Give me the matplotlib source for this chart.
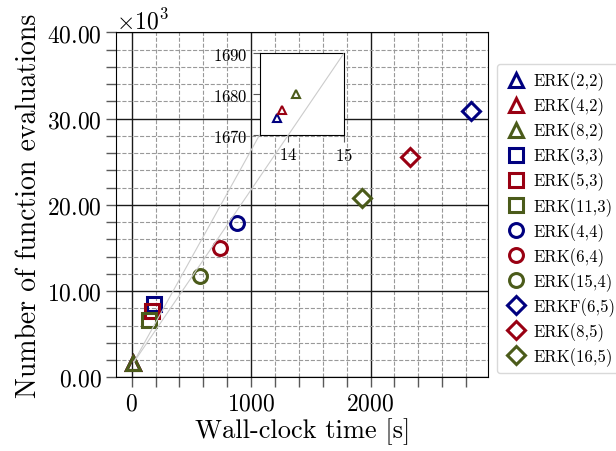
import matplotlib
matplotlib.use("Agg")
import matplotlib.pyplot as plt
from matplotlib.ticker import ScalarFormatter, MultipleLocator
from mpl_toolkits.axes_grid1.inset_locator import mark_inset

plt.rcParams['font.family'] = 'serif'
plt.rcParams['font.serif'] = ['cmr10']
plt.rcParams['mathtext.fontset'] = 'cm'
plt.rcParams['axes.formatter.use_mathtext'] = True

# schemes, wall-clock time [s], number of function evaluations
labels = ['ERK(2,2)', 'ERK(4,2)', 'ERK(8,2)',
          'ERK(3,3)', 'ERK(5,3)', 'ERK(11,3)',
          'ERK(4,4)', 'ERK(6,4)', 'ERK(15,4)',
          'ERKF(6,5)', 'ERK(8,5)', 'ERK(16,5)']
wall_time = [13.80, 13.89, 14.14,
             187, 167, 148,
             882, 743, 569,
             2841, 2329, 1930]
n_evals = [1674, 1676, 1680,
           8500, 7720, 6680,
           17850, 14950, 11740,
           30840, 25500, 20830]

colors = ['#00007f', '#990012', '#4b5b1a'] * 4
markers = ['^'] * 3 + ['s'] * 3 + ['o'] * 3 + ['D'] * 3


class TwoDecimals(ScalarFormatter):
    def _set_format(self):
        self.format = r'$\mathdefault{%.2f}$'


fig = plt.figure(figsize=(6.16, 4.52), dpi=100)
ax = fig.add_axes([0.189, 0.163, 0.603, 0.763])

for lab, x, y, c, m in zip(labels, wall_time, n_evals, colors, markers):
    ms = 9 if m == 'D' else 10
    ax.plot(x, y, linestyle='none', marker=m, ms=ms, mfc='none', mec=c,
            mew=2.2, label=lab, zorder=3)

ax.set_ylim(0, 40000)
fmt = TwoDecimals(useMathText=True)
fmt.set_powerlimits((3, 3))
ax.yaxis.set_major_formatter(fmt)
ax.yaxis.get_offset_text().set_fontsize(17)
ax.xaxis.set_major_locator(MultipleLocator(1000))
ax.xaxis.set_minor_locator(MultipleLocator(200))
ax.yaxis.set_major_locator(MultipleLocator(10000))
ax.yaxis.set_minor_locator(MultipleLocator(2000))
ax.tick_params(which='both', direction='out', length=7, width=1,
               color='0.35', labelsize=17)
ax.grid(which='major', color='0.1', linestyle='-', linewidth=1.0)
ax.grid(which='minor', color='0.6', linestyle='--', linewidth=0.8)
ax.set_axisbelow(True)
for sp in ax.spines.values():
    sp.set_color('black')
ax.set_xlabel('Wall-clock time [s]', fontsize=19, labelpad=2)
ax.set_ylabel('Number of function evaluations', fontsize=20, labelpad=4)

ax.legend(loc='center left', bbox_to_anchor=(1.025, 0.46), fontsize=12,
          handletextpad=0.3, labelspacing=0.38, borderpad=0.45,
          borderaxespad=0, handlelength=1.4, framealpha=1.0, edgecolor='0.85')

# zoom on the second order schemes
axins = ax.inset_axes([0.386, 0.704, 0.226, 0.235])
for x, y, c, m in zip(wall_time[:3], n_evals[:3], colors[:3], markers[:3]):
    axins.plot(x, y, linestyle='none', marker=m, ms=6, mfc='none', mec=c,
               mew=1.5)
axins.set_xlim(13.5, 15)
axins.set_ylim(1670, 1690)
axins.set_xticks([14, 15])
axins.set_yticks([1670, 1680, 1690])
axins.tick_params(direction='out', length=5, color='0.35', labelsize=12)
axins.set_facecolor('white')
_, c1, c2 = mark_inset(ax, axins, loc1=1, loc2=3, fc='none', ec='0.8', lw=0.8)
c1.set_zorder(6)
c2.set_zorder(6)

fig.savefig('out.png', dpi=100)
